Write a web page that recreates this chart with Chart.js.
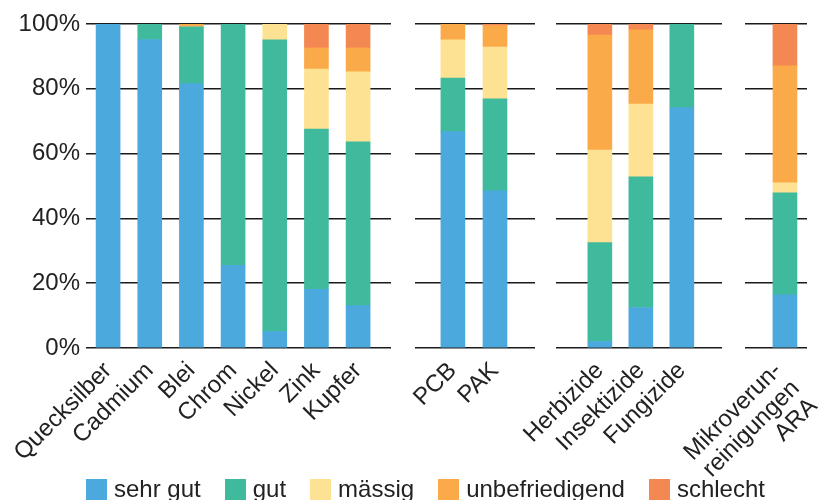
<!DOCTYPE html>
<html lang="de">

<head>
    <meta charset="UTF-8">
    <title>Zustand der Gewässer</title>
    <script src="https://cdn.jsdelivr.net/npm/chart.js"></script>
    <style>
        body { margin: 0; background: #fff; }
        #wrap { position: relative; width: 818px; height: 500px; overflow: hidden; }
        #wrap canvas { position: absolute; left: 0; top: 0; }
        #legend { position: absolute; left: 86px; top: 477px; display: flex; font: 24px 'Liberation Sans', Arial, sans-serif; color: #222; }
        .item { display: flex; align-items: center; margin-right: 24px; }
        .box { width: 21px; height: 21px; margin-right: 7px; }
        .item span { line-height: 24px; }
    </style>
</head>

<body>
    <div id="wrap">
        <div id="legend"></div>
    </div>

    <script>
        // categories, in panel order
        const categories = ['Quecksilber', 'Cadmium', 'Blei', 'Chrom', 'Nickel', 'Zink', 'Kupfer',
            'PCB', 'PAK',
            'Herbizide', 'Insektizide', 'Fungizide',
            ['Mikroverun-', 'reinigungen', 'ARA']];
        const panelSizes = [7, 2, 3, 1];

        // share of stations per rating (%)
        const sehrGut = [100, 95.2, 81.6, 25.5, 5.1, 18.1, 13.1, 66.8, 48.5, 2.0, 12.5, 74.2, 16.4];
        const gut = [0, 4.8, 17.5, 74.5, 90.0, 49.5, 50.5, 16.5, 28.4, 30.5, 40.3, 25.8, 31.5];
        const maessig = [0, 0, 0, 0, 4.9, 18.5, 21.6, 11.8, 16.0, 28.6, 22.5, 0, 3.1];
        const unbefriedigend = [0, 0, 0.9, 0, 0, 6.5, 7.4, 4.9, 6.6, 35.5, 22.9, 0, 36.1];
        const schlecht = [0, 0, 0, 0, 0, 7.4, 7.4, 0, 0.5, 3.4, 1.8, 0, 12.9];

        const seriesNames = ['sehr gut', 'gut', 'mässig', 'unbefriedigend', 'schlecht'];
        const seriesValues = [sehrGut, gut, maessig, unbefriedigend, schlecht];
        const colors = ['#4ca9de', '#3fba9d', '#fde293', '#fbaa4a', '#f48852'];
        const yTicks = [0, 20, 40, 60, 80, 100];

        // where each panel sits (px) and its x range in bar units
        const panels = [
            { left: 86, right: 391, min: -0.53, max: 6.79, labelShift: 0 },
            { left: 415, right: 535, min: -0.9, max: 1.95, labelShift: 0 },
            { left: 556, right: 722, min: -1.07, max: 2.98, labelShift: 0 },
            { left: 745, right: 807, min: -0.96, max: 0.53, labelShift: -7 }
        ];

        const font = { family: "'Liberation Sans', Arial, sans-serif", size: 24 };
        const textColor = '#222';
        const wrap = document.getElementById('wrap');

        let start = 0;
        panels.forEach((panel, p) => {
            const n = panelSizes[p];
            const names = categories.slice(start, start + n);
            const first = p === 0;

            const canvas = document.createElement('canvas');
            canvas.width = 818;
            canvas.height = 500;
            wrap.insertBefore(canvas, document.getElementById('legend'));

            new Chart(canvas, {
                type: 'bar',
                data: {
                    datasets: seriesNames.map((name, k) => ({
                        label: name,
                        data: seriesValues[k].slice(start, start + n).map((v, i) => ({ x: i, y: v })),
                        backgroundColor: colors[k],
                        borderWidth: 0,
                        barThickness: 24
                    }))
                },
                options: {
                    responsive: false,
                    animation: false,
                    layout: { padding: { left: first ? 0 : panel.left, right: 818 - panel.right, top: 24, bottom: 0 } },
                    plugins: { legend: { display: false }, tooltip: { enabled: false } },
                    scales: {
                        x: {
                            type: 'linear',
                            stacked: true,
                            offset: false,
                            min: panel.min,
                            max: panel.max,
                            grid: { display: false },
                            border: { display: false },
                            ticks: {
                                autoSkip: false,
                                minRotation: 45,
                                maxRotation: 45,
                                padding: 2,
                                labelOffset: panel.labelShift,
                                font: { ...font, lineHeight: 1.05 },
                                color: textColor,
                                callback: v => names[v]
                            },
                            afterBuildTicks: s => { s.ticks = names.map((_, i) => ({ value: i })); },
                            afterFit: s => { s.height = 152; s.paddingLeft = 0; s.paddingRight = 0; }
                        },
                        y: {
                            stacked: true,
                            min: 0,
                            max: 100,
                            grid: { color: '#1a1a1a', lineWidth: 1.5, drawTicks: false },
                            border: { display: false },
                            ticks: {
                                display: first,
                                padding: 6,
                                font: font,
                                color: textColor,
                                callback: v => v + '%'
                            },
                            afterBuildTicks: s => { s.ticks = yTicks.map(v => ({ value: v })); },
                            afterFit: s => { s.width = first ? 86 : 0; s.paddingTop = 0; s.paddingBottom = 0; }
                        }
                    }
                }
            });
            start += n;
        });

        // legend
        const legend = document.getElementById('legend');
        seriesNames.forEach((name, k) => {
            const item = document.createElement('div');
            item.className = 'item';
            item.innerHTML = '<div class="box" style="background:' + colors[k] + '"></div><span>' + name + '</span>';
            legend.appendChild(item);
        });
    </script>
</body>

</html>
